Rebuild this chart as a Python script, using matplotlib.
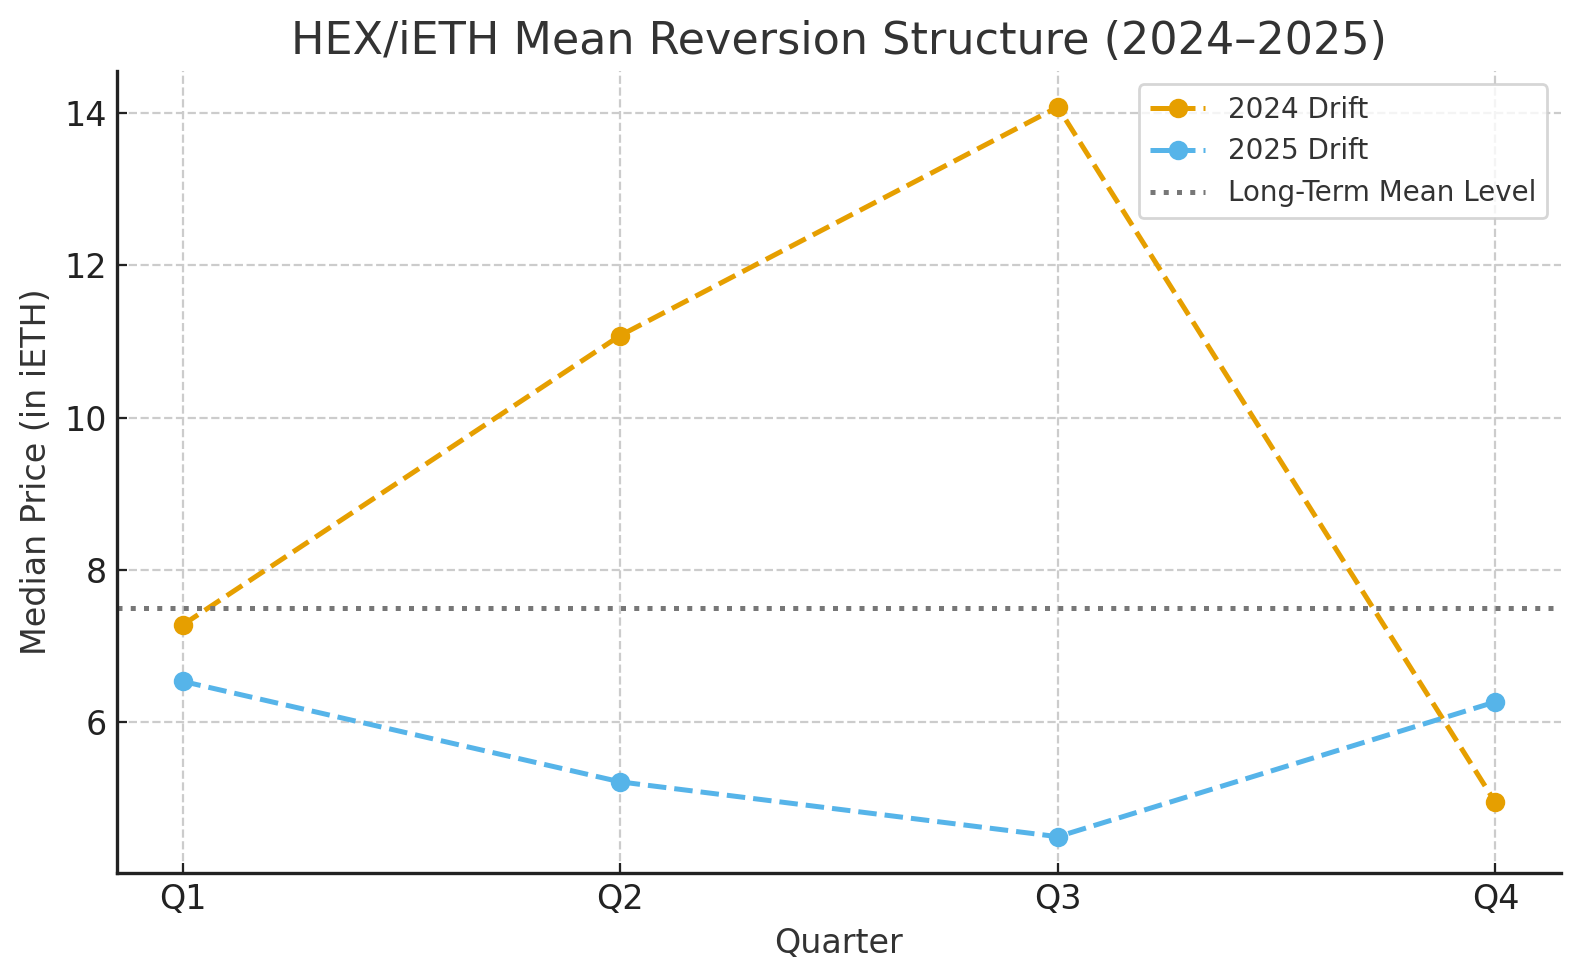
import matplotlib
matplotlib.use("Agg")
import matplotlib.pyplot as plt

quarters = ["Q1", "Q2", "Q3", "Q4"]
drift_2024 = [7.28, 11.08, 14.08, 4.95]
drift_2025 = [6.54, 5.22, 4.50, 6.27]
mean_level = 7.5

plt.rcParams["text.color"] = "#333333"
plt.rcParams["axes.labelcolor"] = "#333333"

fig, ax = plt.subplots(figsize=(7.9, 4.9), dpi=200)

ax.plot(quarters, drift_2024, "o--", color="#E69F00", lw=1.8, ms=6, label="2024 Drift")
ax.plot(quarters, drift_2025, "o--", color="#56B4E9", lw=1.8, ms=6, label="2025 Drift")
ax.axhline(mean_level, color="#777777", ls=":", lw=1.8, label="Long-Term Mean Level")

ax.set_title("HEX/iETH Mean Reversion Structure (2024–2025)", fontsize=16)
ax.set_xlabel("Quarter", fontsize=12)
ax.set_ylabel("Median Price (in iETH)", fontsize=12)
ax.tick_params(labelsize=12, colors="#222222", direction="in")
ax.grid(True, ls="--", color="#cccccc", lw=0.8)
for s in ["top", "right"]:
    ax.spines[s].set_visible(False)
for s in ["left", "bottom"]:
    ax.spines[s].set_linewidth(1.2)
    ax.spines[s].set_color("#222222")
ax.legend(fontsize=10, loc="upper right")

fig.subplots_adjust(left=0.074, right=0.988, top=0.928, bottom=0.109)
plt.savefig("out.png", dpi=200)
